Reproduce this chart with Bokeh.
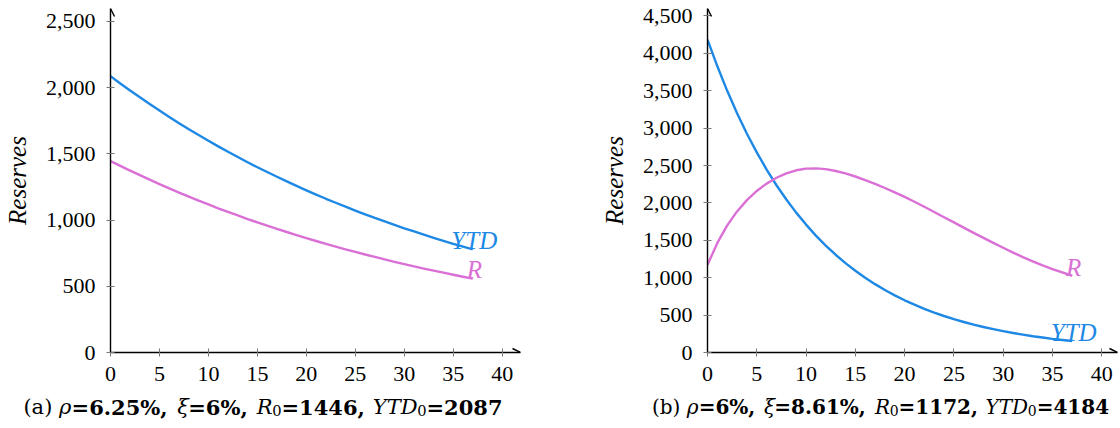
import math
from bokeh.plotting import figure
from bokeh.models import Label, Arrow, OpenHead, FixedTicker, NumeralTickFormatter, Range1d
from bokeh.layouts import row, column
from bokeh.embed import file_html
from bokeh.resources import INLINE

# ---------------- data ----------------
years = [0, 1, 2, 3, 4, 5, 6, 7, 8, 9, 10, 11, 12, 13, 14, 15, 16, 17, 18, 19,
         20, 21, 22, 23, 24, 25, 26, 27, 28, 29, 30, 31, 32, 33, 34, 35, 36, 37]

ytd_a = [2087, 2032, 1979, 1927, 1876, 1827, 1779, 1732, 1686, 1642, 1599, 1557, 1516,
         1476, 1437, 1399, 1363, 1327, 1292, 1258, 1225, 1193, 1161, 1131, 1101, 1072,
         1044, 1016, 990, 964, 938, 914, 890, 866, 843, 821, 800, 779]
r_a = [1446, 1409, 1373, 1339, 1305, 1271, 1239, 1208, 1177, 1147, 1118, 1089, 1062,
       1035, 1008, 983, 958, 933, 910, 887, 864, 842, 821, 800, 779, 760, 740, 722,
       703, 685, 668, 651, 634, 618, 603, 587, 572, 558]

ytd_b = [4184, 3826, 3498, 3199, 2925, 2675, 2446, 2236, 2045, 1870, 1710, 1563, 1429,
         1307, 1195, 1093, 999, 914, 835, 764, 698, 639, 584, 534, 488, 446, 408, 373,
         341, 312, 285, 261, 239, 218, 200, 182, 167, 153]
r_b = [1172, 1465, 1700, 1886, 2037, 2160, 2258, 2336, 2395, 2436, 2458, 2462, 2451,
       2427, 2394, 2353, 2306, 2255, 2199, 2140, 2080, 2015, 1948, 1879, 1809, 1739,
       1669, 1600, 1532, 1465, 1400, 1336, 1275, 1218, 1165, 1116, 1070, 1026]

x_ticks = [0, 5, 10, 15, 20, 25, 30, 35, 40]
y_ticks_a = [0, 500, 1000, 1500, 2000, 2500]
y_ticks_b = [0, 500, 1000, 1500, 2000, 2500, 3000, 3500, 4000, 4500]

series_names = ["YTD", "R"]
y_title = "Reserves"

caption_a = [("(a) ", "reg"), ("ρ", "ital"), ("=6.25%, ", "bold"), ("ξ", "ital"),
             ("=6%, ", "bold"), ("R", "ital"), ("0", "sub"), ("=1446, ", "bold"),
             ("YTD", "ital"), ("0", "sub"), ("=2087", "bold")]
caption_b = [("(b) ", "reg"), ("ρ", "ital"), ("=6%, ", "bold"), ("ξ", "ital"),
             ("=8.61%, ", "bold"), ("R", "ital"), ("0", "sub"), ("=1172, ", "bold"),
             ("YTD", "ital"), ("0", "sub"), ("=4184", "bold")]

# ---------------- style ----------------
BLUE = "#1E88E5"
PINK = "#DA70D6"
SERIF = "Liberation Serif"
CAP_FONT = "DejaVu Serif"
PLOT_H = 390
FRAME_H = 344
CAP_H = 38
CAP_BASE = 16.5

# approximate advance widths (em) for caption layout
REG = {"(": 0.390, ")": 0.390, "a": 0.596, "b": 0.640, " ": 0.318}
BOLD = {"=": 0.838, ".": 0.380, "%": 1.002, ",": 0.380, " ": 0.348}
ITAL = {"ρ": 0.60, "ξ": 0.52, "R": 0.73, "Y": 0.67, "T": 0.67, "D": 0.77}


def piece_width(text, kind, size):
    if kind == "sub":
        return 0.636 * len(text) * size * 0.7
    w = 0.0
    for ch in text:
        if kind == "bold":
            w += 0.696 if ch.isdigit() else BOLD.get(ch, 0.6)
        elif kind == "ital":
            w += ITAL.get(ch, 0.6)
        else:
            w += 0.636 if ch.isdigit() else REG.get(ch, 0.6)
    return w * size


def build(ytd, r, y_ticks, x_max, y_max, width, border_left, border_right,
          ytd_off, r_off):
    frame_w = width - border_left - border_right
    px_x = frame_w / x_max
    px_y = FRAME_H / y_max
    p = figure(width=width, height=PLOT_H,
               x_range=Range1d(0, x_max), y_range=Range1d(0, y_max),
               output_backend="svg", toolbar_location=None,
               min_border_left=border_left, min_border_right=border_right,
               min_border_top=8, min_border_bottom=PLOT_H - 8 - FRAME_H)
    p.frame_align = False
    p.outline_line_color = None
    p.xgrid.visible = False
    p.ygrid.visible = False
    p.background_fill_color = "white"
    p.border_fill_color = "white"

    for ax, ticks in ((p.xaxis[0], x_ticks), (p.yaxis[0], y_ticks)):
        ax.ticker = FixedTicker(ticks=ticks, minor_ticks=[])
        ax.axis_line_color = "black"
        ax.axis_line_width = 1.4
        ax.major_tick_in = 4
        ax.major_tick_out = 4
        ax.major_tick_line_color = "#777777"
        ax.major_tick_line_width = 1
        ax.minor_tick_line_color = None
        ax.major_label_text_font = SERIF
        ax.major_label_text_font_size = "22px"
        ax.major_label_text_color = "black"
    p.yaxis[0].formatter = NumeralTickFormatter(format="0,0")
    p.yaxis[0].major_label_standoff = 11
    p.xaxis[0].major_label_standoff = 10

    p.yaxis[0].axis_label = y_title
    p.yaxis[0].axis_label_text_font = SERIF
    p.yaxis[0].axis_label_text_font_style = "italic"
    p.yaxis[0].axis_label_text_font_size = "25px"
    p.yaxis[0].axis_label_text_color = "black"
    p.yaxis[0].axis_label_standoff = 12

    # arrow heads at the axis ends
    p.add_layout(Arrow(end=OpenHead(size=8, line_width=1.4, line_color="black"),
                       x_start=0, y_start=y_max * 0.95, x_end=0, y_end=y_max,
                       line_alpha=0))
    p.add_layout(Arrow(end=OpenHead(size=8, line_width=1.4, line_color="black"),
                       x_start=x_max * 0.95, y_start=0, x_end=x_max, y_end=0,
                       line_alpha=0))

    p.line(years, ytd, line_color=BLUE, line_width=2.4, line_join="round")
    p.line(years, r, line_color=PINK, line_width=2.4, line_join="round")

    # series names just above the ends of the curves
    for name, vals, off, col in ((series_names[0], ytd, ytd_off, BLUE),
                                 (series_names[1], r, r_off, PINK)):
        p.add_layout(Label(x=years[-1] + off[0] / px_x,
                           y=vals[-1] + off[1] / px_y, text=name,
                           text_align="center", text_baseline="alphabetic",
                           text_font=SERIF, text_font_style="italic",
                           text_font_size="25px", text_color=col))
    return p


def build_caption(caption, width, center, size):
    c = figure(width=width, height=CAP_H, x_range=Range1d(0, width),
               y_range=Range1d(CAP_H, 0), output_backend="svg",
               toolbar_location=None, x_axis_type=None, y_axis_type=None,
               min_border_left=0, min_border_right=0, min_border_top=0,
               min_border_bottom=0)
    c.frame_align = False
    c.outline_line_color = None
    c.xgrid.visible = False
    c.ygrid.visible = False
    c.background_fill_color = "white"
    c.border_fill_color = "white"
    total = sum(piece_width(t, k, size) for t, k in caption)
    xcur = center - total / 2
    for t, k in caption:
        style = {"reg": "normal", "ital": "italic", "bold": "bold", "sub": "normal"}[k]
        fs = size * 0.7 if k == "sub" else size
        ybase = CAP_BASE + (3.5 if k == "sub" else 0)
        c.add_layout(Label(x=xcur, y=ybase, text=t,
                           text_align="left", text_baseline="alphabetic",
                           text_font=CAP_FONT, text_font_style=style,
                           text_font_size=f"{fs:.1f}px", text_color="black"))
        xcur += piece_width(t, k, size)
    return c


p1 = build(ytd_a, r_a, y_ticks_a, 41.87, 2598, 540, 108, 20, (1.5, 9), (1.5, 9))
p2 = build(ytd_b, r_b, y_ticks_b, 41.6, 4599, 580, 167, 3, (1.5, 9), (1.5, 8))
c1 = build_caption(caption_a, 540, 262.5, 21.0)
c2 = build_caption(caption_b, 580, 340.0, 20.0)

layout = row(column(p1, c1), column(p2, c2))
open("out.html", "w").write(file_html(layout, INLINE))
